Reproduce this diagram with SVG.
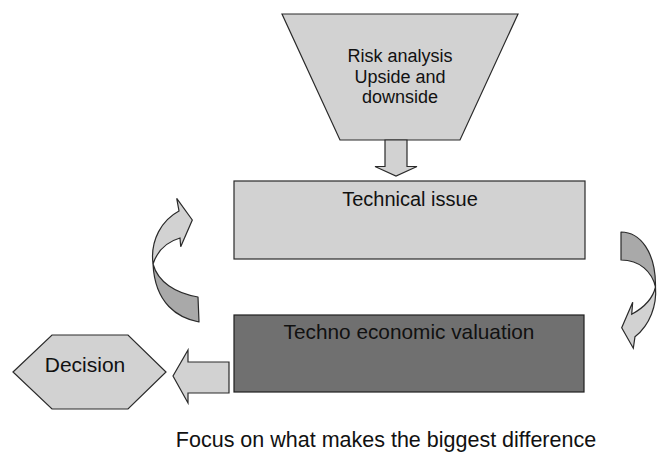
<svg xmlns="http://www.w3.org/2000/svg" width="659" height="456" viewBox="0 0 659 456">
<style>
.shape{fill:#d2d2d2;stroke:#2a2a2a;stroke-width:1.2;stroke-linejoin:miter}
.dark{fill:#707070;stroke:#1e1e1e;stroke-width:1.2}
.mid{fill:#a9a9a9;stroke:#2a2a2a;stroke-width:1.2;stroke-linejoin:round}
.arrow{fill:#d2d2d2;stroke:#2a2a2a;stroke-width:1.2;stroke-linejoin:miter}
text{font-family:"Liberation Sans",Arial,sans-serif;fill:#111;text-anchor:middle}
</style>
<rect width="659" height="456" fill="#ffffff"/>
<g id="risk-analysis">
<polygon class="shape" points="282,14 518,14 460,140 340,140"/>
<text x="400" y="62" font-size="18">Risk analysis</text>
<text x="400" y="82.5" font-size="18">Upside and</text>
<text x="400" y="103" font-size="18">downside</text>
</g>
<g id="technical-issue">
<rect class="shape" x="234" y="181" width="351" height="78"/>
<text x="410" y="206" font-size="20">Technical issue</text>
</g>
<g id="techno-economic-valuation">
<rect class="dark" x="234" y="315" width="350" height="77"/>
<text x="409" y="339" font-size="20.8">Techno economic valuation</text>
</g>
<g id="decision">
<polygon class="shape" points="13,372 52,335 128,335 166,372 128,409 52,409"/>
<text x="85" y="372" font-size="21">Decision</text>
</g>
<g id="connectors">
<polygon class="arrow" points="385,140 407,140 407,166.5 417,166.5 396,176 375,166.5 385,166.5"/>
<polygon class="arrow" points="229,362 188,362 188,350 173,376 188,403 188,393 229,393"/>
<path class="mid" d="M153,264 C158,282 175,293 198,297 L199,322 C178,318 155,304 153,264 Z"/>
<path class="arrow" d="M153,264 C150,240 162,220 179,211 L176.7,198.3 L192.3,220 L180.7,246.7 L180,238 C166,242 157,252 153,264 Z"/>
<path class="mid" d="M621,232 C640,232 656,252 655.5,287 C652,272 640,260 621,260 Z"/>
<path class="arrow" d="M655.5,287 C657,305 650,325 635,336.7 L633.3,348.3 L621.7,327.7 L632.7,302.3 L631.7,314.3 C645,307 653,298 655.5,287 Z"/>
</g>
<g id="caption">
<text x="386" y="447" font-size="21.5">Focus on what makes the biggest difference</text>
</g>
</svg>
